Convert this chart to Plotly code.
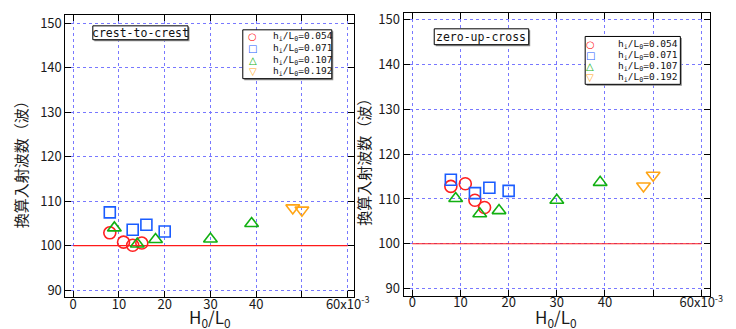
import plotly.graph_objects as go

W, H = 736, 329

# ---------------- data ----------------
series_names = ["h<sub>i</sub>/L<sub>0</sub>=0.054", "h<sub>i</sub>/L<sub>0</sub>=0.071",
                "h<sub>i</sub>/L<sub>0</sub>=0.107", "h<sub>i</sub>/L<sub>0</sub>=0.192"]

# crest-to-crest (left panel)
cc_054_x = [8, 11, 13, 15]
cc_054_y = [102.9, 100.8, 100.1, 100.6]
cc_071_x = [8, 13, 16, 20]
cc_071_y = [107.5, 103.6, 104.7, 103.2]
cc_107_x = [9, 14, 18, 30, 39]
cc_107_y = [104.0, 100.4, 101.4, 101.5, 105.0]
cc_192_x = [48, 50]
cc_192_y = [108.5, 108.0]

# zero-up-cross (right panel)
zu_054_x = [8, 11, 13, 15]
zu_054_y = [112.8, 113.4, 109.7, 108.1]
zu_071_x = [8, 13, 16, 20]
zu_071_y = [114.3, 111.3, 112.5, 111.8]
zu_107_x = [9, 14, 18, 30, 39]
zu_107_y = [110.1, 106.7, 107.4, 109.7, 113.7]
zu_192_x = [48, 50]
zu_192_y = [112.9, 115.3]

ref_x = [0, 60]
ref_y = [100, 100]

x_tickvals = [0, 10, 20, 30, 40, 50, 60]
x_ticktext = ["0", "10", "20", "30", "40", "", "60x10<sup>-3</sup>"]
y_tickvals = [90, 100, 110, 120, 130, 140, 150]
y_ticktext = ["90", "100", "110", "120", "130", "140", "150"]

panel_titles = ["crest-to-crest", "zero-up-cross"]
y_title = "換算入射波数（波）"
x_title = "H<sub>0</sub>/L<sub>0</sub>"

# ---------------- styles ----------------
colors = ["#ff2020", "#1a5cff", "#12b012", "#ffa516"]
symbols = ["circle-open", "square-open", "triangle-up-open", "triangle-down-open"]
sizes = [12, 11, 12, 12]
legend_glyphs = ["○", "□", "△", "▽"]


def px(x):
    return x / W


def py(y):
    return 1 - y / H


fig = go.Figure()

panels = [
    ([(cc_054_x, cc_054_y), (cc_071_x, cc_071_y), (cc_107_x, cc_107_y), (cc_192_x, cc_192_y)], "x", "y"),
    ([(zu_054_x, zu_054_y), (zu_071_x, zu_071_y), (zu_107_x, zu_107_y), (zu_192_x, zu_192_y)], "x2", "y2"),
]

for series, xa, ya in panels:
    fig.add_trace(go.Scatter(x=ref_x, y=ref_y, mode="lines", line=dict(color="#ff1a1a", width=1.2),
                             xaxis=xa, yaxis=ya, showlegend=False, hoverinfo="skip"))
    for i, (sx, sy) in enumerate(series):
        fig.add_trace(go.Scatter(x=sx, y=sy, mode="markers", name=series_names[i],
                                 marker=dict(symbol=symbols[i], size=sizes[i], color=colors[i],
                                             line=dict(width=1.6, color=colors[i])),
                                 xaxis=xa, yaxis=ya, showlegend=False))

tick_font = dict(family="Noto Sans CJK JP", size=13, color="#1a1a1a")
grid = dict(showgrid=True, gridcolor="#7878ff", gridwidth=1, griddash="dot", zeroline=False,
            showline=True, linecolor="black", linewidth=1, mirror="ticks",
            ticks="inside", ticklen=6, tickcolor="black", tickfont=tick_font)

fig.update_layout(
    width=W, height=H, margin=dict(l=0, r=0, t=0, b=0),
    paper_bgcolor="white", plot_bgcolor="white", showlegend=False,
    xaxis=dict(domain=[px(58.7), px(353.3)], range=[-1.7, 61.3], anchor="y",
               tickvals=x_tickvals, ticktext=x_ticktext, ticklabelstandoff=-5, **grid),
    yaxis=dict(domain=[py(290), py(5)], range=[88.4, 151.85], anchor="x",
               tickvals=y_tickvals, ticktext=y_ticktext, **grid),
    xaxis2=dict(domain=[px(404.3), px(717.7)], range=[-1.83, 61.83], anchor="y2",
                tickvals=x_tickvals, ticktext=x_ticktext, ticklabelstandoff=-5, **grid),
    yaxis2=dict(domain=[py(288.3), py(2.7)], range=[88.4, 151.6], anchor="x2",
                tickvals=y_tickvals, ticktext=y_ticktext, **grid),
)

shapes = []
annotations = []


def box(x0, y0, x1, y1):
    shapes.append(dict(type="rect", xref="paper", yref="paper", layer="above",
                       x0=px(x0 + 1.5), x1=px(x1 + 1.5), y0=py(y0 + 1.5), y1=py(y1 + 1.5),
                       line=dict(width=0), fillcolor="#8a8a8a"))
    shapes.append(dict(type="rect", xref="paper", yref="paper", layer="above",
                       x0=px(x0), x1=px(x1), y0=py(y0), y1=py(y1),
                       line=dict(width=1, color="black"), fillcolor="white"))


# panel title boxes
title_boxes = [(86.7, 16, 184, 30), (435.7, 19, 532.3, 35)]
for (x0, y0, x1, y1), t in zip(title_boxes, panel_titles):
    box(x0, y0, x1, y1)
    annotations.append(dict(text=t, xref="paper", yref="paper", x=px((x0 + x1) / 2), y=py((y0 + y1) / 2),
                            xanchor="center", yanchor="middle", showarrow=False,
                            font=dict(family="DejaVu Sans Mono", size=11.5, color="#111")))

# legend boxes
legend_specs = [
    ((240, 20, 331, 69.3), 250, 268.5, [26.7, 38.7, 50.5, 62]),
    ((590, 26.7, 687.3, 75), 595, 621, [35, 46.2, 57.4, 68.4]),
]
for (x0, y0, x1, y1), sx, tx, rows in legend_specs:
    box(x0, y0, x1, y1)
    for i, ry in enumerate(rows):
        annotations.append(dict(text="<b>" + legend_glyphs[i] + "</b>", xref="paper", yref="paper",
                                x=px(sx), y=py(ry),
                                xanchor="center", yanchor="middle", showarrow=False,
                                font=dict(family="DejaVu Sans", size=10, color=colors[i])))
        annotations.append(dict(text=series_names[i], xref="paper", yref="paper", x=px(tx), y=py(ry),
                                xanchor="left", yanchor="middle", showarrow=False,
                                font=dict(family="DejaVu Sans Mono", size=9.5, color="#111")))

# axis titles
for xc in [206, 560]:
    annotations.append(dict(text=x_title, xref="paper", yref="paper", x=px(xc), y=py(326),
                            xanchor="center", yanchor="bottom", showarrow=False,
                            font=dict(family="Noto Sans CJK JP", size=17, color="#1a1a1a")))
for xc, yc in [(13, 152), (364, 150)]:
    annotations.append(dict(text=y_title, xref="paper", yref="paper", x=px(xc), y=py(yc),
                            xanchor="center", yanchor="middle", showarrow=False, textangle=-90,
                            font=dict(family="Noto Sans CJK JP", size=15, color="#1a1a1a")))

fig.update_layout(shapes=shapes, annotations=annotations)
fig.write_html("out.html")
